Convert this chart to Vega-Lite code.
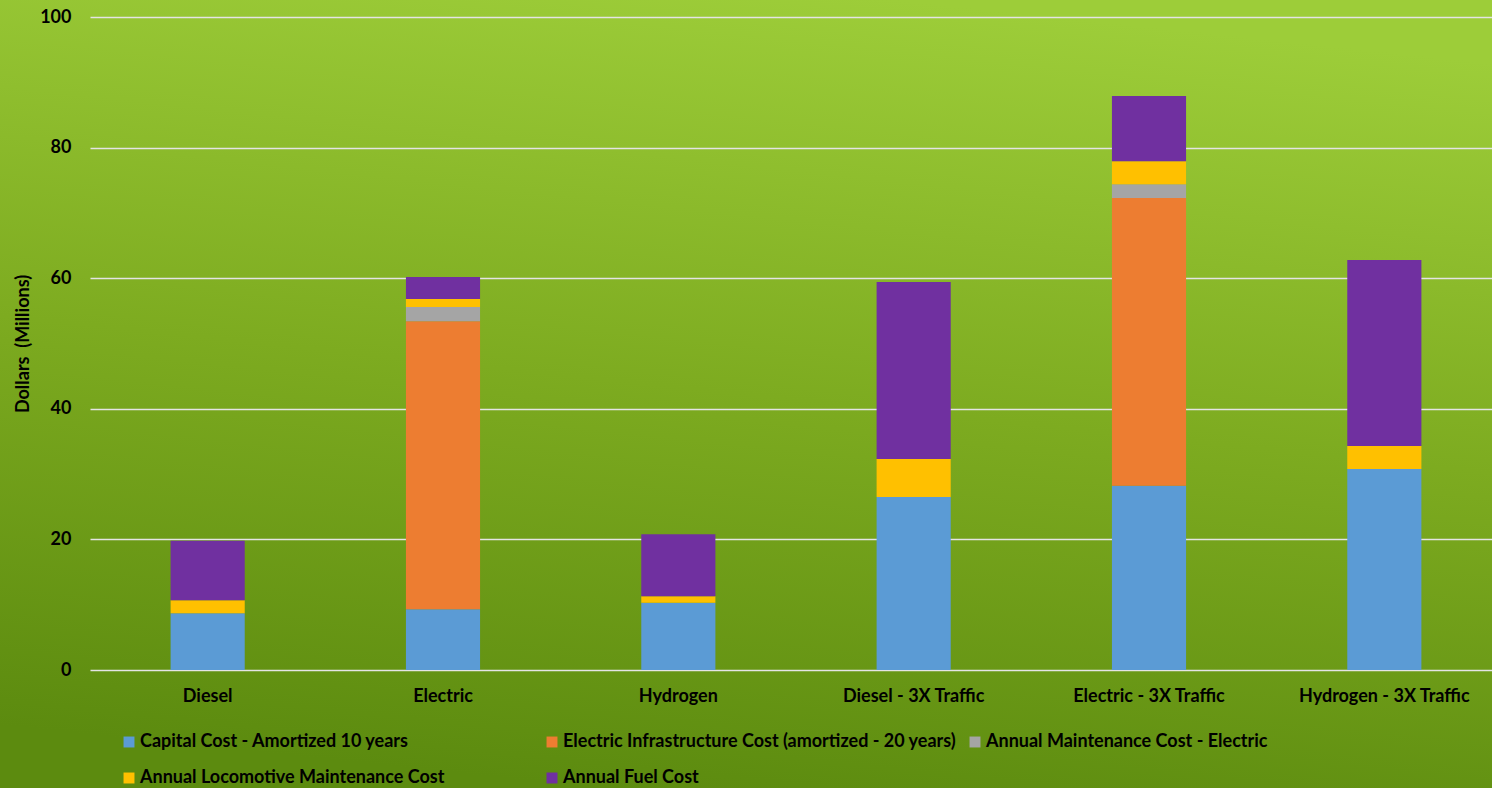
{
  "$schema": "https://vega.github.io/schema/vega-lite/v6.json",
  "width": 1492,
  "height": 788,
  "autosize": {"type": "none"},
  "padding": 0,
  "background": "#7aa820",
  "config": {
    "view": {
      "stroke": null,
      "fill": {
        "gradient": "linear",
        "x1": 0.6, "y1": 0, "x2": 0.4, "y2": 1,
        "stops": [
          {"offset": 0, "color": "#9dcd39"},
          {"offset": 0.5, "color": "#7dab20"},
          {"offset": 1, "color": "#5c8b0f"}
        ]
      }
    },
    "font": "Lato",
    "axis": {"labelFont": "Lato", "titleFont": "Lato"},
    "legend": {"labelFont": "Lato"}
  },
  "data": {
    "values": [
      {"scenario": "Diesel", "cost": "Capital Cost - Amortized 10 years", "order": 1, "value": 8.7},
      {"scenario": "Diesel", "cost": "Annual Locomotive Maintenance Cost", "order": 4, "value": 2.0},
      {"scenario": "Diesel", "cost": "Annual Fuel Cost", "order": 5, "value": 9.1},
      {"scenario": "Electric", "cost": "Capital Cost - Amortized 10 years", "order": 1, "value": 9.3},
      {"scenario": "Electric", "cost": "Electric Infrastructure Cost (amortized - 20 years)", "order": 2, "value": 44.1},
      {"scenario": "Electric", "cost": "Annual Maintenance Cost - Electric", "order": 3, "value": 2.2},
      {"scenario": "Electric", "cost": "Annual Locomotive Maintenance Cost", "order": 4, "value": 1.2},
      {"scenario": "Electric", "cost": "Annual Fuel Cost", "order": 5, "value": 3.4},
      {"scenario": "Hydrogen", "cost": "Capital Cost - Amortized 10 years", "order": 1, "value": 10.3},
      {"scenario": "Hydrogen", "cost": "Annual Locomotive Maintenance Cost", "order": 4, "value": 1.0},
      {"scenario": "Hydrogen", "cost": "Annual Fuel Cost", "order": 5, "value": 9.5},
      {"scenario": "Diesel - 3X Traffic", "cost": "Capital Cost - Amortized 10 years", "order": 1, "value": 26.5},
      {"scenario": "Diesel - 3X Traffic", "cost": "Annual Locomotive Maintenance Cost", "order": 4, "value": 5.8},
      {"scenario": "Diesel - 3X Traffic", "cost": "Annual Fuel Cost", "order": 5, "value": 27.1},
      {"scenario": "Electric - 3X Traffic", "cost": "Capital Cost - Amortized 10 years", "order": 1, "value": 28.2},
      {"scenario": "Electric - 3X Traffic", "cost": "Electric Infrastructure Cost (amortized - 20 years)", "order": 2, "value": 44.1},
      {"scenario": "Electric - 3X Traffic", "cost": "Annual Maintenance Cost - Electric", "order": 3, "value": 2.1},
      {"scenario": "Electric - 3X Traffic", "cost": "Annual Locomotive Maintenance Cost", "order": 4, "value": 3.5},
      {"scenario": "Electric - 3X Traffic", "cost": "Annual Fuel Cost", "order": 5, "value": 10.0},
      {"scenario": "Hydrogen - 3X Traffic", "cost": "Capital Cost - Amortized 10 years", "order": 1, "value": 30.8},
      {"scenario": "Hydrogen - 3X Traffic", "cost": "Annual Locomotive Maintenance Cost", "order": 4, "value": 3.5},
      {"scenario": "Hydrogen - 3X Traffic", "cost": "Annual Fuel Cost", "order": 5, "value": 28.5}
    ]
  },
  "mark": {"type": "bar"},
  "encoding": {
    "x": {
      "field": "scenario",
      "type": "nominal",
      "sort": ["Diesel", "Electric", "Hydrogen", "Diesel - 3X Traffic", "Electric - 3X Traffic", "Hydrogen - 3X Traffic"],
      "scale": {"range": [90, 1502], "paddingInner": 0.685, "paddingOuter": 0.3425},
      "axis": {
        "title": null,
        "labelAngle": 0,
        "offset": -118,
        "domain": false,
        "ticks": false,
        "labelPadding": 17,
        "labelFontSize": 18,
        "labelFontWeight": "bold",
        "labelColor": "#000000"
      }
    },
    "y": {
      "field": "value",
      "type": "quantitative",
      "stack": "zero",
      "scale": {"domain": [0, 100], "range": [670, 17], "nice": false},
      "axis": {
        "title": "Dollars \u00a0(Millions)",
        "values": [0, 20, 40, 60, 80, 100],
        "offset": -71,
        "domain": false,
        "ticks": false,
        "labelPadding": 0,
        "labelFontSize": 18,
        "labelFontWeight": "bold",
        "labelColor": "#000000",
        "titleFontSize": 18,
        "titleFontWeight": "bold",
        "titleColor": "#000000",
        "titlePadding": 7,
        "grid": true,
        "gridColor": "#e4e4e4",
        "gridWidth": 1.5,
        "gridOpacity": 1
      }
    },
    "color": {
      "field": "cost",
      "type": "nominal",
      "scale": {
        "domain": [
          "Capital Cost - Amortized 10 years",
          "Electric Infrastructure Cost (amortized - 20 years)",
          "Annual Maintenance Cost - Electric",
          "Annual Locomotive Maintenance Cost",
          "Annual Fuel Cost"
        ],
        "range": ["#5b9bd5", "#ed7d31", "#a5a5a5", "#ffc000", "#7030a0"]
      },
      "legend": {
        "title": null,
        "orient": "none",
        "legendX": 120,
        "legendY": 733,
        "direction": "horizontal",
        "columns": 3,
        "gridAlign": "all",
        "columnPadding": 9,
        "rowPadding": 18,
        "symbolType": "square",
        "symbolSize": 120,
        "symbolStrokeWidth": 0,
        "labelOffset": 2,
        "labelLimit": 600,
        "labelFontSize": 18,
        "labelFontWeight": "bold",
        "labelColor": "#000000"
      }
    },
    "order": {"field": "order", "type": "quantitative"}
  }
}
